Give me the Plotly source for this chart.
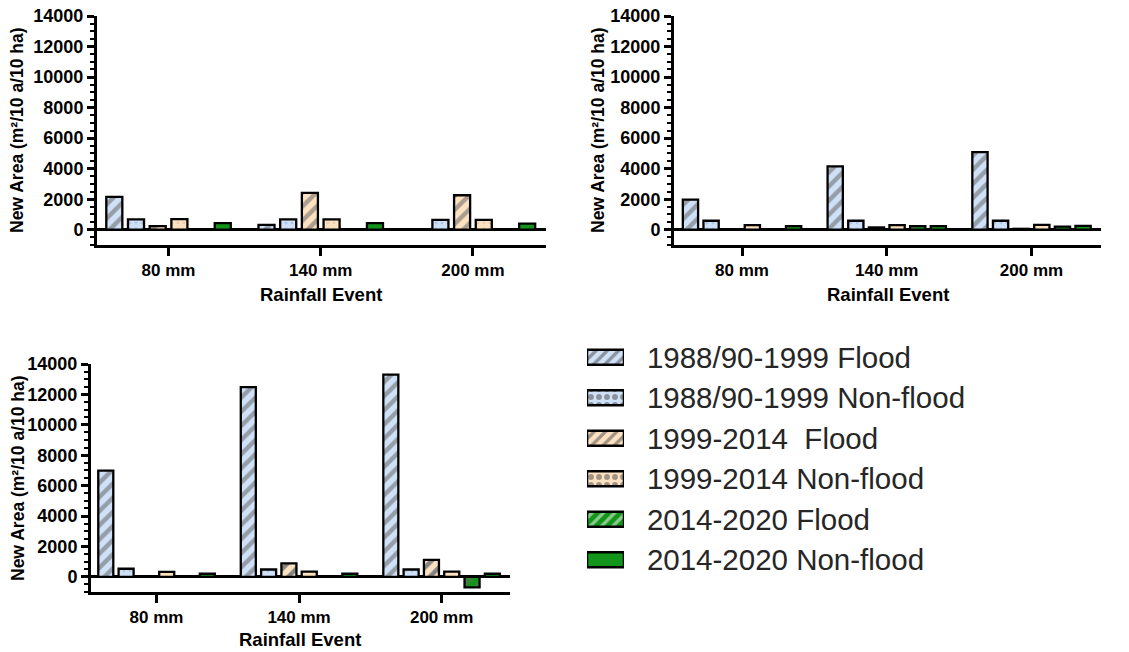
import plotly.graph_objects as go

# ---------------- data ----------------
categories = ["80 mm", "140 mm", "200 mm"]
series_names = ["1988/90-1999 Flood", "1988/90-1999 Non-flood",
                "1999-2014  Flood", "1999-2014 Non-flood",
                "2014-2020 Flood", "2014-2020 Non-flood"]

# top-left panel
flood88_a = [2150, 320, 0]
nonflood88_a = [680, 680, 650]
flood99_a = [230, 2420, 2260]
nonflood99_a = [700, 680, 650]
flood14_a = [0, 0, 0]
nonflood14_a = [430, 430, 400]

# top-right panel
flood88_b = [1970, 4150, 5090]
nonflood88_b = [590, 590, 590]
flood99_b = [0, 150, 60]
nonflood99_b = [300, 300, 320]
flood14_b = [0, 230, 200]
nonflood14_b = [230, 230, 250]

# bottom panel
flood88_c = [6990, 12480, 13300]
nonflood88_c = [530, 480, 480]
flood99_c = [0, 880, 1120]
nonflood99_c = [330, 340, 340]
flood14_c = [0, 0, -700]
nonflood14_c = [200, 200, 200]

y_ticks = [0, 2000, 4000, 6000, 8000, 10000, 12000, 14000]
legend_keys = [1, 1, 1, 1, 1, 1]

# ---------------- styles ----------------
W, H = 1129, 652
def dx(px): return px / W
def dy(px): return 1 - px / H

BLUE = "#cfe1f7"
PEACH = "#fde2c2"
GREEN = "#13941a"
fills = [BLUE, BLUE, PEACH, PEACH, GREEN, GREEN]
shapes = ["/", ".", "/", ".", "/", ""]
fgs = ["#595959", "#8fb0da", "#595959", "#e0b890", "#6a6a6a", "#000000"]
sizes = [10, 6, 10, 6, 10, 8]
solid = [0.45, 0.18, 0.45, 0.18, 0.45, 0.3]

panels = [
    ("x", "y", [flood88_a, nonflood88_a, flood99_a, nonflood99_a, flood14_a, nonflood14_a], None),
    ("x2", "y2", [flood88_b, nonflood88_b, flood99_b, nonflood99_b, flood14_b, nonflood14_b], None),
    ("x3", "y3", [flood88_c, nonflood88_c, flood99_c, nonflood99_c, flood14_c, nonflood14_c], {2: "#0b2545"}),
]

fig = go.Figure()
for xa, ya, series, override in panels:
    for i, vals in enumerate(series):
        fg = fgs[i]
        if override and i in override:
            fg = override[i]
        fig.add_trace(go.Bar(
            x=categories, y=vals, name=series_names[i], xaxis=xa, yaxis=ya,
            showlegend=False,
            marker=dict(color=fills[i], line=dict(color="black", width=2.3),
                        pattern=dict(shape=shapes[i], fgcolor=fg, size=sizes[i],
                                     solidity=solid[i], fillmode="overlay")),
        ))

# custom legend as a small bar subplot
fig.add_trace(go.Bar(
    x=legend_keys, y=series_names, orientation="h", xaxis="x4", yaxis="y4",
    showlegend=False, width=0.37, hoverinfo="skip",
    marker=dict(color=fills, line=dict(color="black", width=2.5),
                pattern=dict(shape=shapes, fgcolor=fgs, size=8,
                             solidity=0.42, fillmode="overlay")),
))

FONT = "Liberation Sans, Arial, sans-serif"

def xax(domain, rng, anchor):
    return dict(domain=domain, range=rng, anchor=anchor, type="category",
                showline=True, linewidth=3, linecolor="black",
                ticks="outside", ticklen=8, tickwidth=3, tickcolor="black",
                tickfont=dict(family=FONT, size=17, color="black", weight="bold"),
                showgrid=False, zeroline=False, automargin=False, fixedrange=True)

def yax(domain, anchor):
    return dict(domain=domain, range=[-1000, 14000], anchor=anchor,
                tickvals=y_ticks, tickformat="d",
                showline=True, linewidth=3, linecolor="black",
                ticks="outside", ticklen=7, tickwidth=3, tickcolor="black",
                minor=dict(dtick=500, tick0=0, ticks="outside", ticklen=4,
                           tickwidth=2, tickcolor="black", showgrid=False),
                tickfont=dict(family=FONT, size=18, color="black", weight="bold"),
                showgrid=False, zeroline=True, zerolinecolor="black", zerolinewidth=3,
                automargin=False, fixedrange=True)

fig.update_layout(
    width=W, height=H,
    margin=dict(l=0, r=0, t=0, b=0),
    paper_bgcolor="white", plot_bgcolor="white",
    barmode="group", bargap=0.145, bargroupgap=0.26,
    xaxis=xax([dx(97), dx(546)], [-0.47, 2.48], "y"),
    yaxis=yax([dy(245), dy(16)], "x"),
    xaxis2=xax([dx(674), dx(1101)], [-0.47, 2.48], "y2"),
    yaxis2=yax([dy(245), dy(16)], "x2"),
    xaxis3=xax([dx(91), dx(510)], [-0.46, 2.48], "y3"),
    yaxis3=yax([dy(592), dy(364)], "x3"),
    xaxis4=dict(domain=[dx(587), dx(624)], range=[0, 1], visible=False,
                anchor="y4", fixedrange=True),
    yaxis4=dict(domain=[dy(580), dy(337)], anchor="x4", type="category",
                autorange="reversed", side="right", showline=False,
                showgrid=False, zeroline=False, ticks="outside", ticklen=16,
                tickcolor="rgba(0,0,0,0)",
                tickfont=dict(family=FONT, size=29.5, color="#262626"),
                automargin=False, fixedrange=True),
    showlegend=False,
)

ytitle = "New Area (m²/10 a/10 ha)"
tfont = dict(family=FONT, size=17.5, color="black", weight="bold")
xfont = dict(family=FONT, size=18.5, color="black", weight="bold")
for (px, py) in [(17, 130), (598, 130), (18, 478)]:
    fig.add_annotation(x=dx(px), y=dy(py), xref="paper", yref="paper",
                       text=ytitle, textangle=-90, showarrow=False,
                       xanchor="center", yanchor="middle", font=tfont)
for (px, py) in [(321, 295), (888, 295), (300, 639)]:
    fig.add_annotation(x=dx(px), y=dy(py), xref="paper", yref="paper",
                       text="Rainfall Event", showarrow=False,
                       xanchor="center", yanchor="middle", font=xfont)

fig.write_html("out.html")
